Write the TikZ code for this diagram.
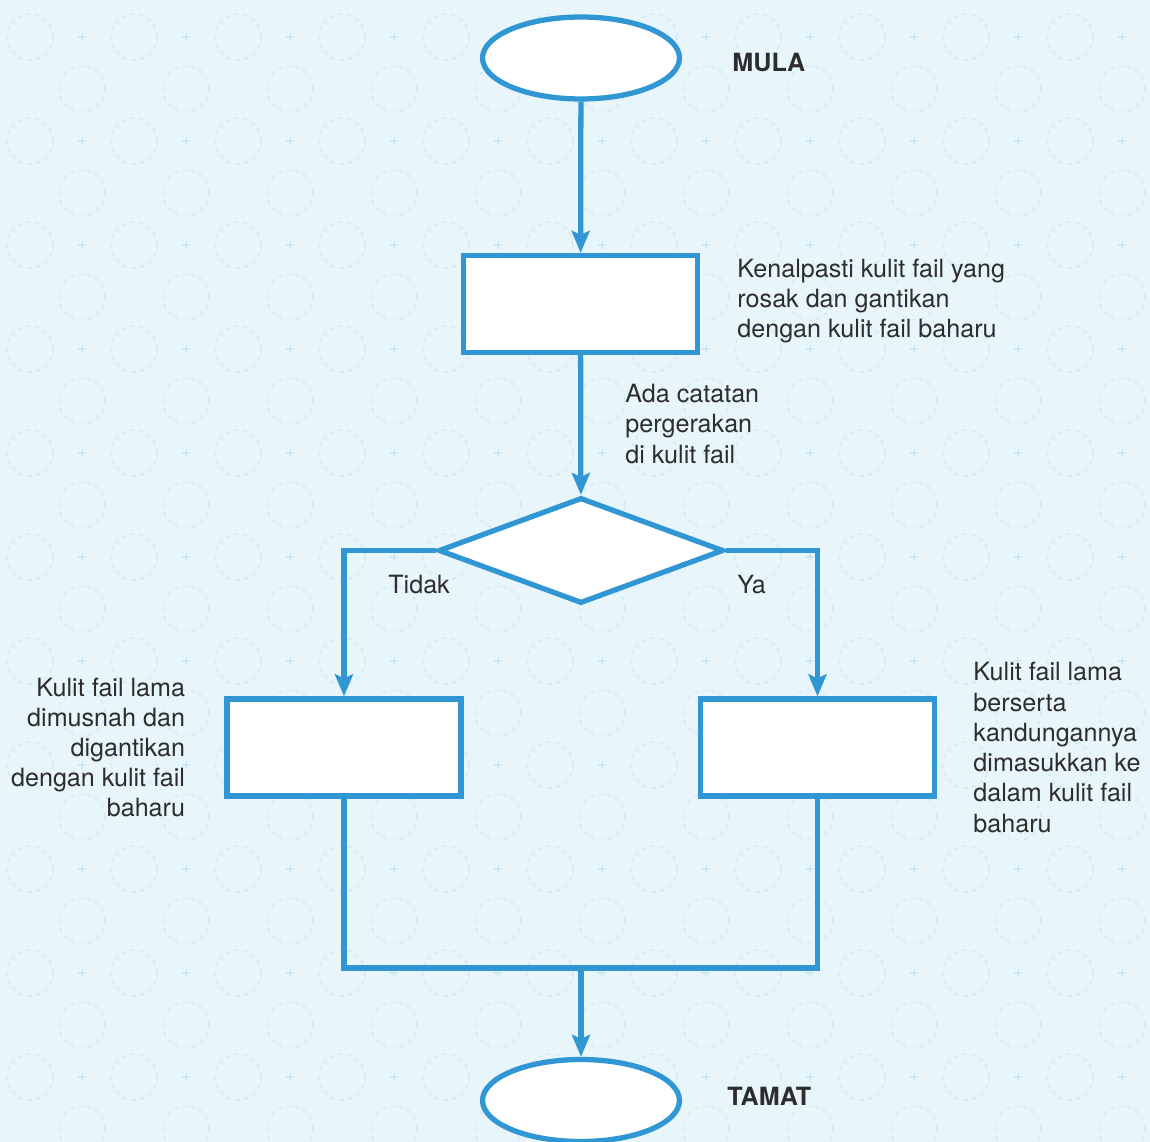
\documentclass[tikz,border=0pt]{standalone}
\usepackage{fontspec}
\setmainfont{TeX Gyre Heros}
\usetikzlibrary{positioning,shapes.geometric,arrows.meta}
\definecolor{flowblue}{RGB}{48,150,212}
\definecolor{paper}{RGB}{232,246,251}
\definecolor{doodle}{RGB}{202,232,245}
\definecolor{ink}{RGB}{45,45,45}

\tikzset{
  terminal/.style={ellipse, draw=flowblue, fill=white, line width=3pt,
    minimum width=3.94cm, minimum height=1.64cm, inner sep=0pt},
  process/.style={rectangle, draw=flowblue, fill=white, line width=3pt,
    minimum width=4.68cm, minimum height=1.94cm, inner sep=0pt},
  decision/.style={diamond, draw=flowblue, fill=white, line width=3pt,
    minimum width=5.7cm, minimum height=2.12cm, inner sep=0pt},
  flow/.style={draw=flowblue, line width=3pt,
    -{Stealth[length=0.44cm, width=0.36cm, inset=0.08cm]}},
  link/.style={draw=flowblue, line width=3pt},
  note/.style={text=ink, font=\fontsize{14.3}{17.2}\selectfont, inner sep=0pt},
  tag/.style={text=ink, font=\fontsize{14.3}{17.2}\selectfont\bfseries, inner sep=0pt}
}

\begin{document}
\begin{tikzpicture}[x=0.02cm, y=-0.02cm]

\useasboundingbox (0,0) rectangle (1150,1142);
\fill[paper] (0,0) rectangle (1150,1142);

%Background doodles
\begin{scope}
\clip (0,0) rectangle (1150,1142);
\foreach \i in {0,...,11}
{
	\foreach \j in {0,...,11}
	{
		\draw[doodle, line width=0.6pt, dash pattern=on 2.5pt off 2.5pt]
			(\i*104+30, \j*104+37) circle[radius=0.46cm]
			(\i*104+82, \j*104+89) circle[radius=0.46cm];
		\draw[doodle, line width=0.7pt]
			(\i*104+82, \j*104+37) +(-4,0) -- +(4,0) +(0,-4) -- +(0,4);
	}
}
\end{scope}

%Shapes
\node[terminal] (start)   at (581,58)     {};
\node[process]  (check)   at (580.5,304)  {};
\node[decision] (decide)  at (581,550.5)  {};
\node[process]  (discard) at (344,747.5)  {};
\node[process]  (keep)    at (817.5,747.5){};
\node[terminal] (finish)  at (581,1100.5) {};
\coordinate (merge) at (581,968);

%Texts
\node[tag, right=1cm of start, yshift=-0.09cm] (startlabel) {MULA};
\node[tag, right=0.9cm of finish, yshift=0.09cm] (finishlabel) {TAMAT};
\node[note, align=left, right=0.74cm of check, yshift=0.06cm] (checknote)
	{Kenalpasti kulit fail yang\\rosak dan gantikan\\dengan kulit fail baharu};
\node[note, align=left, anchor=west] (movenote) at (625,424)
	{Ada catatan\\pergerakan\\di kulit fail};
\node[note, anchor=west] (nolabel)  at (388,585) {Tidak};
\node[note, anchor=west] (yeslabel) at (737,585) {Ya};
\node[note, align=right, left=0.78cm of discard] (discardnote)
	{Kulit fail lama\\dimusnah dan\\digantikan\\dengan kulit fail\\baharu};
\node[note, align=left, right=0.72cm of keep] (keepnote)
	{Kulit fail lama\\berserta\\kandungannya\\dimasukkan ke\\dalam kulit fail\\baharu};

%Connectors
\draw[flow] (start) -- (check);
\draw[flow] (check) -- (decide);
\draw[flow] (decide.west) -| (discard);
\draw[flow] (decide.east) -| (keep);
\draw[link] (discard) |- (merge) -| (keep);
\draw[flow] (merge) -- (finish);

\end{tikzpicture}
\end{document}
